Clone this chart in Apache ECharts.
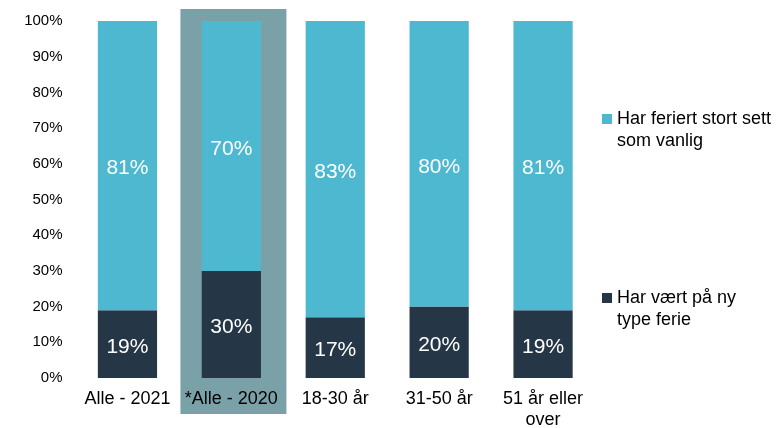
<!DOCTYPE html>
<html><head><meta charset="utf-8">
<script src="https://cdn.jsdelivr.net/npm/echarts@6/dist/echarts.min.js"></script>
<style>html,body{margin:0;padding:0;background:#fff}#c{width:778px;height:428px}</style>
</head><body><div id="c"></div>
<script>
const categories = ['Alle - 2021', '*Alle - 2020', '18-30 år', '31-50 år', '51 år eller\nover'];
const newType = [19, 30, 17, 20, 19];
const asUsual = [81, 70, 83, 80, 81];
const yTicks = [0, 10, 20, 30, 40, 50, 60, 70, 80, 90, 100];
const seriesNames = ['Har feriert stort sett\nsom vanlig', 'Har vært på ny\ntype ferie'];
const highlightCategory = '*Alle - 2020';

const chart = echarts.init(document.getElementById('c'), null, {renderer: 'canvas'});
const font = 'Arial, "Liberation Sans", sans-serif';
const lbl = {show: true, position: 'inside', offset: [0, 3], color: '#fff', fontSize: 21, fontFamily: font, formatter: p => p.value + '%'};
const legendText = {fontSize: 18, fontFamily: font, color: '#000', lineHeight: 22};
chart.setOption({
  animation: false,
  grid: {left: 75.5, right: 183, top: 21, bottom: 50, containLabel: false, outerBoundsMode: 'none'},
  legend: [
    {data: [seriesNames[0]], left: 597, top: 81, orient: 'vertical', itemWidth: 10, itemHeight: 10, itemGap: 0,
     icon: 'rect', textStyle: legendText, formatter: n => '\n' + n},
    {data: [seriesNames[1]], left: 597, top: 260, orient: 'vertical', itemWidth: 10, itemHeight: 10, itemGap: 0,
     icon: 'rect', textStyle: legendText, formatter: n => '\n' + n}
  ],
  xAxis: {type: 'category', data: categories, axisLine: {show: false}, axisTick: {show: false},
    axisLabel: {fontSize: 18, fontFamily: font, color: '#000', margin: 11, lineHeight: 21, interval: 0}},
  yAxis: {type: 'value', min: 0, max: 100, interval: 10, splitLine: {show: false}, axisLine: {show: false},
    axisTick: {show: false},
    axisLabel: {fontSize: 15, fontFamily: font, color: '#000', margin: 13, formatter: v => yTicks.includes(v) ? v + '%' : ''}},
  series: [
    {name: seriesNames[1], type: 'bar', stack: 's', data: newType, barWidth: '57%', itemStyle: {color: '#253746'}, label: lbl},
    {name: seriesNames[0], type: 'bar', stack: 's', data: asUsual, barWidth: '57%', itemStyle: {color: '#4FB8D1'}, label: lbl}
  ]
});

// highlight box behind the 2020 column
const cx = chart.convertToPixel({xAxisIndex: 0}, highlightCategory);
const y0 = chart.convertToPixel({yAxisIndex: 0}, 0);
const y100 = chart.convertToPixel({yAxisIndex: 0}, 100);
const step = chart.convertToPixel({xAxisIndex: 0}, categories[1]) - chart.convertToPixel({xAxisIndex: 0}, categories[0]);
chart.setOption({graphic: [{type: 'rect', z: -10, silent: true,
  shape: {x: cx - step * 0.49, y: y100 - 12, width: step * 1.02, height: (y0 - y100) + 48},
  style: {fill: '#7AA1A8'}}]});
</script></body></html>
